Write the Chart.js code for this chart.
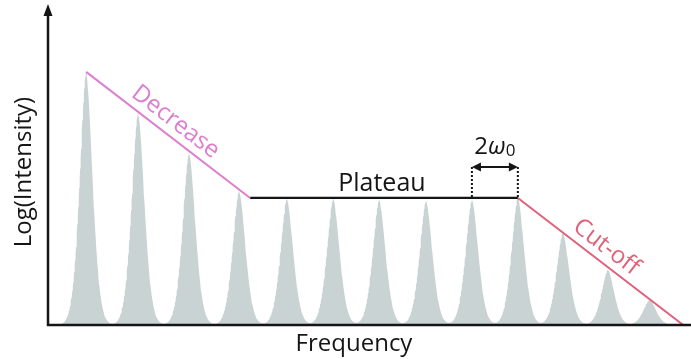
<!DOCTYPE html>
<html>
<head>
<meta charset="utf-8">
<script src="https://cdn.jsdelivr.net/npm/chart.js@4.4.1/dist/chart.umd.min.js"></script>
<style>
  html, body { margin: 0; padding: 0; background: #fff; }
  #wrap { width: 691px; height: 359px; position: relative; }
</style>
</head>
<body>
<div id="wrap"><canvas id="spectrum"></canvas></div>
<script>
// harmonic peaks: position on the frequency axis and their log-intensity
const peakPos = [0.83, 1.96, 3.07, 4.16, 5.20, 6.21, 7.21, 8.23, 9.23, 10.23, 11.21, 12.19, 13.10];
const peakHeight = [79.1, 66.3, 53.8, 41.9, 39.4, 39.4, 39.1, 38.8, 39.1, 39.7, 28.8, 17.2, 7.8];

// envelope break points
const decreaseLine = [{x: 0.83, y: 79.1}, {x: 4.40, y: 39.7}];
const plateauLine = [{x: 4.40, y: 39.7}, {x: 10.23, y: 39.7}];
const cutoffLine = [{x: 10.23, y: 39.7}, {x: 13.83, y: 0}];

const PINK = '#dd7fd0';
const RED = '#e0627a';
const INK = '#151515';
const FONT = '"Open Sans", "DejaVu Sans", sans-serif';

// each harmonic is drawn as a narrow peak around its position
const peakWidth = 0.2;
const peakPower = 1.7;
function spectrumAt(x) {
  let s = 0;
  for (let i = 0; i < peakPos.length; i++) {
    const d = Math.abs(x - peakPos[i]) / peakWidth;
    s += peakHeight[i] * Math.exp(-Math.pow(d, peakPower));
  }
  return s;
}
const spectrum = [];
for (let x = 0; x <= 14.0001; x += 0.01) {
  spectrum.push({x: x, y: spectrumAt(x)});
}

const annotate = {
  id: 'annotate',
  afterDatasetsDraw(chart) {
    const {ctx, chartArea: a, scales} = chart;
    const X = v => scales.x.getPixelForValue(v);
    const Y = v => scales.y.getPixelForValue(v);
    ctx.save();

    // axes with arrow heads
    ctx.strokeStyle = INK;
    ctx.fillStyle = INK;
    ctx.lineWidth = 2.5;
    ctx.beginPath();
    ctx.moveTo(a.left, a.bottom);
    ctx.lineTo(a.left, a.top + 10);
    ctx.moveTo(a.left - 1.2, a.bottom);
    ctx.lineTo(a.right, a.bottom);
    ctx.stroke();
    ctx.beginPath();
    ctx.moveTo(a.left, a.top - 1);
    ctx.lineTo(a.left - 4.5, a.top + 11);
    ctx.lineTo(a.left + 4.5, a.top + 11);
    ctx.closePath();
    ctx.fill();

    // axis titles
    ctx.font = '24px ' + FONT;
    ctx.textAlign = 'center';
    ctx.textBaseline = 'alphabetic';
    ctx.fillText('Frequency', 354, 351);
    ctx.save();
    ctx.translate(31, 172);
    ctx.rotate(-Math.PI / 2);
    ctx.fillText('Log(Intensity)', 0, 0);
    ctx.restore();

    // labels along the envelope
    const slopeLabel = (text, line, t, color) => {
      const x0 = X(line[0].x), y0 = Y(line[0].y);
      const x1 = X(line[1].x), y1 = Y(line[1].y);
      const ang = Math.atan2(y1 - y0, x1 - x0);
      ctx.save();
      ctx.translate(x0 + (x1 - x0) * t, y0 + (y1 - y0) * t);
      ctx.rotate(ang);
      ctx.fillStyle = color;
      ctx.font = '24px ' + FONT;
      ctx.textAlign = 'center';
      ctx.fillText(text, 0, -8);
      ctx.restore();
    };
    slopeLabel('Decrease', decreaseLine, 0.49, PINK);
    slopeLabel('Cut-off', cutoffLine, 0.48, RED);

    ctx.fillStyle = INK;
    ctx.font = '25px ' + FONT;
    ctx.textAlign = 'center';
    ctx.fillText('Plateau', X(7.27), Y(plateauLine[0].y) - 7);

    // spacing between neighbouring harmonics
    const xa = X(peakPos[8]), xb = X(peakPos[9]);
    const yTop = Y(49.4), yLine = Y(plateauLine[0].y);
    ctx.lineWidth = 2;
    ctx.setLineDash([2, 2]);
    ctx.beginPath();
    ctx.moveTo(xa, yTop); ctx.lineTo(xa, yLine);
    ctx.moveTo(xb, yTop); ctx.lineTo(xb, yLine);
    ctx.stroke();
    ctx.setLineDash([]);
    ctx.beginPath();
    ctx.moveTo(xa + 4, yTop); ctx.lineTo(xb - 4, yTop);
    ctx.stroke();
    [[xa, 1], [xb, -1]].forEach(([px, dir]) => {
      ctx.beginPath();
      ctx.moveTo(px, yTop);
      ctx.lineTo(px + dir * 9, yTop - 4.5);
      ctx.lineTo(px + dir * 9, yTop + 4.5);
      ctx.closePath();
      ctx.fill();
    });
    ctx.textAlign = 'left';
    ctx.font = '24px ' + FONT;
    const w2 = ctx.measureText('2').width;
    ctx.font = 'italic 24px ' + FONT;
    const ww = ctx.measureText('ω').width;
    ctx.font = '17px ' + FONT;
    const w0 = ctx.measureText('0').width;
    let sx = (xa + xb) / 2 - (w2 + ww + w0) / 2;
    ctx.font = '24px ' + FONT;
    ctx.fillText('2', sx, yTop - 13);
    ctx.font = 'italic 24px ' + FONT;
    ctx.fillText('ω', sx + w2, yTop - 13);
    ctx.font = '17px ' + FONT;
    ctx.fillText('0', sx + w2 + ww, yTop - 11);

    ctx.restore();
  }
};

new Chart(document.getElementById('spectrum'), {
  type: 'line',
  data: {
    datasets: [
      {data: decreaseLine, borderColor: PINK, borderWidth: 2, pointRadius: 0, order: 1},
      {data: plateauLine, borderColor: INK, borderWidth: 2.2, pointRadius: 0, order: 1},
      {data: cutoffLine, borderColor: RED, borderWidth: 2, pointRadius: 0, order: 1},
      {
        data: spectrum,
        borderWidth: 0,
        pointRadius: 0,
        tension: 0,
        fill: 'origin',
        backgroundColor: '#c9d3d3',
        order: 2
      }
    ]
  },
  options: {
    responsive: true,
    maintainAspectRatio: false,
    animation: false,
    layout: {padding: {left: 48, top: 5, right: 0, bottom: 34}},
    plugins: {legend: {display: false}, tooltip: {enabled: false}},
    scales: {
      x: {type: 'linear', min: 0, max: 14, display: false},
      y: {type: 'linear', min: 0, max: 100, display: false}
    }
  },
  plugins: [annotate]
});
</script>
</body>
</html>
